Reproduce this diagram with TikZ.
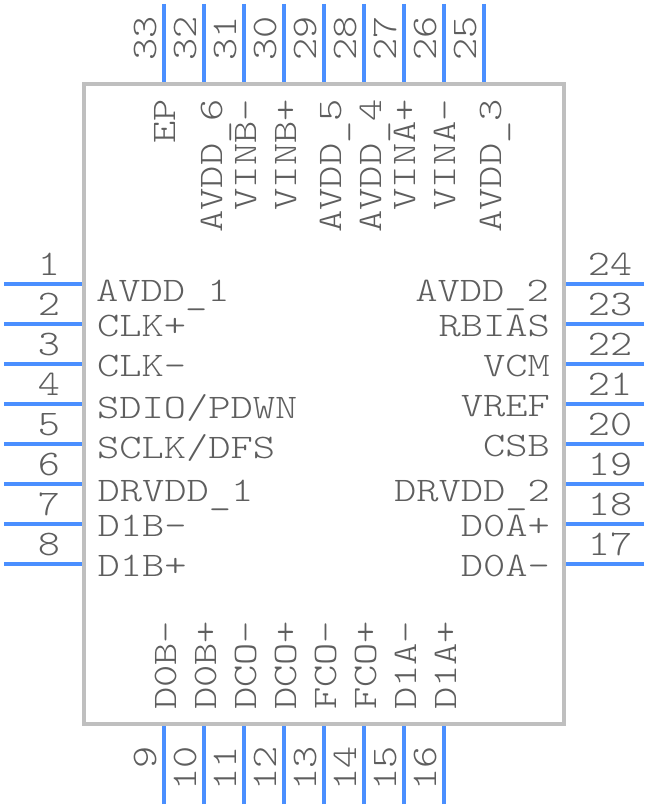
\documentclass[tikz,border=0pt]{standalone}
\usepackage{fontspec}
\newfontfamily\pinfont[FakeStretch=1.232]{Latin Modern Mono Light}
\newfontfamily\numfont[FakeStretch=1.17]{Latin Modern Mono Light}
\definecolor{pinblue}{HTML}{4A8FFF}
\definecolor{bodygray}{HTML}{BFBFBF}
\definecolor{textgray}{HTML}{5E5E5E}
\newcommand{\lowus}{\lower3.2pt\hbox{\_}}
\tikzset{
  pinline/.style={draw=pinblue,line width=4pt},
  chipbody/.style={draw=bodygray,line width=4pt,fill=white,minimum width=480pt,minimum height=640pt,inner sep=0pt},
  lbl/.style={text=textgray,inner sep=0pt,font=\pinfont\fontsize{34.4}{36}\selectfont},
  num/.style={text=textgray,inner sep=0pt,font=\numfont\fontsize{36}{38}\selectfont},
  lblL/.style={lbl,anchor=base west},
  lblR/.style={lbl,anchor=base east},
  numC/.style={num,anchor=base},
  numV/.style={num,rotate=90,anchor=base east},
  vS/.style={lbl,rotate=90,anchor=base west},
  vE/.style={lbl,rotate=90,anchor=base east},
}
\begin{document}
\begin{tikzpicture}[x=1pt,y=-1pt]
\useasboundingbox (0,0) rectangle (648,808);
\node[chipbody] (body) at (324,404) {};
% left pins 1-8
\foreach \n/\yy in {1/284,2/324,3/364,4/404,5/444,6/484,7/524,8/564}{
  \coordinate (p\n a) at (4,\yy); \coordinate (p\n b) at (82,\yy);
  \draw[pinline] (p\n a) -- (p\n b);
}
% right pins 17-24
\foreach \n/\yy in {24/284,23/324,22/364,21/404,20/444,19/484,18/524,17/564}{
  \coordinate (p\n a) at (644,\yy); \coordinate (p\n b) at (566,\yy);
  \draw[pinline] (p\n a) -- (p\n b);
}
% bottom pins 9-16
\foreach \n/\xx in {9/164,10/204,11/244,12/284,13/324,14/364,15/404,16/444}{
  \coordinate (p\n a) at (\xx,804); \coordinate (p\n b) at (\xx,726);
  \draw[pinline] (p\n a) -- (p\n b);
}
% top pins 25-33
\foreach \n/\xx in {33/164,32/204,31/244,30/284,29/324,28/364,27/404,26/444,25/484}{
  \coordinate (p\n a) at (\xx,4); \coordinate (p\n b) at (\xx,82);
  \draw[pinline] (p\n a) -- (p\n b);
}
% left numbers
\node[numC] (n1) at (49,275) {1};
\node[numC] (n2) at (49,315) {2};
\node[numC] (n3) at (49,355) {3};
\node[numC] (n4) at (49,395) {4};
\node[numC] (n5) at (49,435) {5};
\node[numC] (n6) at (49,475) {6};
\node[numC] (n7) at (49,515) {7};
\node[numC] (n8) at (49,555) {8};
% right numbers
\node[numC] (n24) at (610,275) {24};
\node[numC] (n23) at (610,315) {23};
\node[numC] (n22) at (610,355) {22};
\node[numC] (n21) at (610,395) {21};
\node[numC] (n20) at (610,435) {20};
\node[numC] (n19) at (610,475) {19};
\node[numC] (n18) at (610,515) {18};
\node[numC] (n17) at (610,555) {17};
% top numbers
\node[numV] (n33) at (156,16) {33};
\node[numV] (n32) at (196,16) {32};
\node[numV] (n31) at (236,16) {31};
\node[numV] (n30) at (276,16) {30};
\node[numV] (n29) at (316,16) {29};
\node[numV] (n28) at (356,16) {28};
\node[numV] (n27) at (396,16) {27};
\node[numV] (n26) at (436,16) {26};
\node[numV] (n25) at (476,16) {25};
% bottom numbers
\node[numV] (n9) at (156,746) {9};
\node[numV] (n10) at (196,746) {10};
\node[numV] (n11) at (236,746) {11};
\node[numV] (n12) at (276,746) {12};
\node[numV] (n13) at (316,746) {13};
\node[numV] (n14) at (356,746) {14};
\node[numV] (n15) at (396,746) {15};
\node[numV] (n16) at (436,746) {16};
% left names
\node[lblL] (s1) at (96,301) {AVDD\lowus 1};
\node[lblL] (s2) at (97,336) {CLK+};
\node[lblL] (s3) at (97,376) {CLK-};
\node[lblL] (s4) at (97,418) {SDIO/PDWN};
\node[lblL] (s5) at (97,458) {SCLK/DFS};
\node[lblL] (s6) at (97.5,501) {DRVDD\lowus 1};
\node[lblL] (s7) at (97.5,536) {D1B-};
\node[lblL] (s8) at (97.5,576) {D1B+};
% right names
\node[lblR] (s24) at (549,301) {AVDD\lowus 2};
\node[lblR] (s23) at (550,336) {RBIAS};
\node[lblR] (s22) at (550,376) {VCM};
\node[lblR] (s21) at (550,416) {VREF};
\node[lblR] (s20) at (550,456) {CSB};
\node[lblR] (s19) at (550,501) {DRVDD\lowus 2};
\node[lblR] (s18) at (550,536) {D0A+};
\node[lblR] (s17) at (550,576) {D0A-};
% top names
\node[vE] (s33) at (175,99) {EP};
\node[vE] (s32) at (222,99) {AVDD\lowus 6};
\node[vE] (s31) at (256,99) {VINB-};
\node[vE] (s30) at (296,99) {VINB+};
\node[vE] (s29) at (341,99) {AVDD\lowus 5};
\node[vE] (s28) at (381,99) {AVDD\lowus 4};
\node[vE] (s27) at (415,99) {VINA+};
\node[vE] (s26) at (455,99) {VINA-};
\node[vE] (s25) at (501,99) {AVDD\lowus 3};
% bottom names
\node[vS] (s9) at (176,710) {D0B-};
\node[vS] (s10) at (216,710) {D0B+};
\node[vS] (s11) at (256,710) {DCO-};
\node[vS] (s12) at (296,710) {DCO+};
\node[vS] (s13) at (336,710) {FCO-};
\node[vS] (s14) at (376,710) {FCO+};
\node[vS] (s15) at (416,710) {D1A-};
\node[vS] (s16) at (456,710) {D1A+};
\end{tikzpicture}
\end{document}
